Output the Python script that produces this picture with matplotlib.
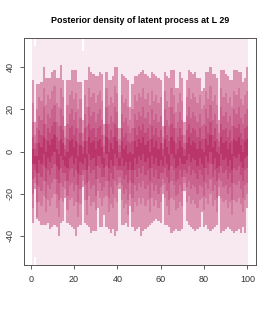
import numpy as np
import matplotlib
matplotlib.use("Agg")
import matplotlib.pyplot as plt

plt.rcParams['font.family'] = ['Liberation Sans', 'DejaVu Sans']

# time index
steps = list(range(1, 101))

# quantiles of the posterior at each step
q_max = [62, 50, 62, 62, 62, 62, 62, 62, 62, 62, 62, 62, 62, 62, 62, 57, 62, 62, 62, 62,
         62, 62, 62, 48, 62, 62, 62, 62, 62, 62, 62, 62, 62, 57, 62, 62, 62, 62, 62, 62,
         57, 62, 62, 62, 62, 58, 62, 62, 62, 62, 62, 62, 62, 62, 62, 62, 62, 62, 62, 62,
         57, 62, 62, 62, 62, 62, 62, 62, 62, 62, 57, 62, 62, 62, 62, 62, 62, 62, 62, 62,
         62, 62, 62, 62, 62, 62, 57, 62, 62, 62, 62, 62, 62, 62, 62, 62, 62, 62, 62, 62]
q95 = [34, 14, 32, 32, 33, 40, 35, 35, 35, 38, 39, 35, 35, 41, 34, 12, 34, 34, 39, 39,
       39, 33, 33, 15, 34, 34, 40, 38, 37, 36, 36, 38, 37, 13, 38, 34, 34, 36, 40, 40,
       11, 37, 36, 35, 34, 21, 32, 36, 36, 37, 38, 39, 37, 36, 35, 38, 37, 36, 35, 34,
       12, 38, 36, 35, 39, 39, 30, 30, 38, 35, 14, 34, 39, 38, 37, 38, 35, 35, 29, 30,
       38, 38, 40, 37, 37, 35, 15, 39, 39, 37, 36, 34, 34, 39, 39, 38, 38, 33, 35, 40]
q90 = [23, 8, 20, 26, 24, 30, 22, 27, 25, 29, 31, 23, 21, 30, 26, 7, 22, 27, 29, 25,
       28, 20, 25, 9, 27, 21, 30, 26, 28, 23, 27, 29, 24, 8, 30, 22, 26, 23, 31, 28,
       6, 27, 23, 25, 21, 15, 20, 27, 24, 28, 26, 30, 25, 28, 22, 29, 24, 27, 23, 26,
       7, 29, 24, 21, 30, 27, 19, 23, 28, 24, 8, 26, 30, 25, 28, 26, 23, 27, 20, 22,
       29, 25, 31, 24, 27, 22, 9, 30, 26, 28, 23, 26, 21, 29, 27, 30, 25, 22, 27, 29]
q80 = [14, 4, 11, 17, 15, 21, 13, 18, 16, 20, 22, 14, 12, 20, 17, 3, 13, 18, 20, 15,
       19, 11, 16, 5, 18, 12, 21, 17, 19, 14, 18, 20, 15, 3, 21, 13, 17, 14, 21, 19,
       3, 18, 14, 16, 12, 9, 11, 18, 15, 19, 17, 21, 16, 19, 13, 20, 15, 18, 14, 17,
       4, 20, 15, 12, 21, 18, 11, 14, 19, 15, 4, 17, 21, 16, 19, 17, 14, 18, 12, 13,
       20, 16, 22, 15, 18, 13, 5, 21, 17, 19, 14, 17, 12, 20, 18, 21, 16, 13, 18, 20]
q70 = [7, 1, 4, 10, 8, 13, 6, 11, 9, 12, 14, 7, 5, 12, 10, 1, 6, 11, 12, 8,
       11, 4, 9, 2, 11, 5, 13, 10, 11, 7, 11, 12, 8, 0, 13, 6, 10, 7, 13, 11,
       0, 11, 7, 9, 5, 4, 5, 11, 8, 12, 10, 13, 9, 11, 6, 12, 8, 11, 7, 10,
       1, 12, 8, 5, 13, 11, 4, 7, 11, 8, 1, 10, 13, 9, 11, 10, 7, 11, 6, 6,
       12, 9, 14, 8, 11, 6, 2, 13, 10, 11, 7, 10, 5, 12, 11, 13, 9, 6, 11, 12]
q60 = [1, -2, -2, 4, 2, 7, 0, 5, 3, 6, 8, 1, -1, 6, 4, -2, 0, 5, 6, 2,
       5, -2, 3, -1, 5, -1, 7, 4, 5, 1, 5, 6, 2, -3, 7, 0, 4, 1, 7, 5,
       -3, 5, 1, 3, -1, 0, -1, 5, 2, 6, 4, 7, 3, 5, 0, 6, 2, 5, 1, 4,
       -2, 6, 2, -1, 7, 5, -1, 1, 5, 2, -2, 4, 7, 3, 5, 4, 1, 5, 1, 0,
       6, 3, 8, 2, 5, 0, -1, 7, 4, 5, 1, 4, -1, 6, 5, 7, 3, 0, 5, 6]
q40 = [-6, -6, -10, -4, -6, -1, -8, -3, -5, -2, 0, -7, -9, -2, -4, -7, -8, -3, -2, -6,
       -3, -10, -5, -6, -3, -9, -1, -4, -3, -7, -2, -2, -6, -8, -1, -8, -4, -7, -1, -3,
       -7, -3, -7, -5, -9, -5, -9, -3, -6, -2, -4, -1, -5, -3, -8, -2, -6, -3, -7, -4,
       -7, -2, -6, -9, -1, -3, -8, -7, -3, -6, -6, -4, -1, -5, -3, -4, -7, -3, -6, -8,
       -2, -5, 0, -6, -3, -8, -7, -1, -4, -3, -7, -4, -9, -2, -3, -1, -5, -8, -3, -2]
q30 = [-13, -9, -16, -10, -12, -7, -14, -9, -11, -8, -6, -13, -15, -8, -10, -10, -14, -9, -8, -12,
       -9, -16, -11, -9, -9, -15, -7, -10, -9, -13, -7, -8, -12, -12, -7, -14, -10, -13, -7, -9,
       -9, -9, -13, -11, -15, -9, -15, -9, -12, -8, -10, -7, -11, -9, -14, -8, -12, -9, -13, -10,
       -10, -8, -12, -15, -7, -9, -14, -13, -9, -12, -9, -10, -7, -11, -9, -10, -13, -9, -11, -14,
       -8, -11, -6, -12, -9, -14, -10, -7, -10, -9, -13, -10, -15, -8, -9, -7, -11, -14, -9, -8]
q20 = [-20, -12, -24, -17, -19, -14, -22, -16, -18, -15, -13, -20, -23, -15, -17, -14, -21, -16, -15, -19,
       -16, -24, -18, -11, -16, -23, -14, -18, -16, -21, -13, -15, -19, -17, -14, -22, -17, -20, -14, -16,
       -12, -16, -20, -18, -23, -14, -22, -16, -19, -15, -17, -14, -18, -16, -22, -15, -19, -16, -20, -17,
       -13, -15, -19, -23, -14, -16, -21, -20, -16, -19, -12, -17, -14, -18, -16, -17, -20, -16, -17, -21,
       -15, -18, -13, -19, -16, -22, -13, -14, -17, -16, -20, -17, -23, -15, -16, -14, -18, -22, -16, -15]
q10 = [-27, -15, -31, -24, -26, -21, -29, -23, -26, -22, -20, -27, -31, -22, -24, -18, -28, -23, -22, -26,
       -24, -31, -25, -14, -23, -30, -21, -26, -24, -28, -19, -22, -26, -22, -21, -29, -25, -27, -22, -24,
       -15, -23, -27, -25, -30, -20, -29, -24, -26, -22, -25, -22, -26, -23, -29, -22, -26, -23, -27, -24,
       -16, -22, -26, -30, -22, -23, -28, -27, -24, -26, -15, -24, -21, -25, -23, -25, -27, -23, -22, -28,
       -22, -25, -20, -26, -23, -29, -17, -22, -24, -23, -27, -24, -30, -23, -24, -22, -25, -29, -23, -20]
q05 = [-34, -18, -32, -33, -35, -35, -35, -34, -37, -36, -35, -36, -40, -34, -33, -22, -34, -35, -36, -37,
       -40, -36, -35, -17, -34, -35, -36, -39, -38, -38, -27, -36, -36, -30, -36, -37, -39, -37, -40, -38,
       -18, -35, -35, -34, -36, -26, -36, -38, -37, -36, -40, -38, -37, -36, -35, -34, -33, -32, -33, -34,
       -20, -35, -35, -36, -39, -38, -37, -38, -38, -37, -19, -33, -35, -36, -37, -38, -37, -36, -29, -36,
       -35, -37, -38, -37, -36, -35, -21, -39, -38, -37, -36, -37, -38, -39, -38, -37, -39, -36, -39, -27]
q_min = [-62, -50, -62, -62, -62, -62, -62, -62, -62, -62, -62, -62, -62, -62, -62, -57, -62, -62, -62, -62,
         -62, -62, -62, -57, -62, -62, -62, -62, -62, -62, -62, -62, -62, -62, -62, -62, -62, -62, -62, -62,
         -57, -62, -62, -62, -62, -58, -62, -62, -62, -62, -62, -62, -62, -62, -62, -62, -62, -62, -62, -62,
         -57, -62, -62, -62, -62, -62, -62, -62, -62, -62, -57, -62, -62, -62, -62, -62, -62, -62, -62, -62,
         -62, -62, -62, -62, -62, -62, -57, -62, -62, -62, -62, -62, -62, -62, -62, -62, -62, -62, -62, -62]

# bands from outside to inside
bands = [(q_min, q_max), (q05, q95), (q10, q90), (q20, q80), (q30, q70), (q40, q60)]
colours = ['#F8E8EF', '#DB95B1', '#D27A9D', '#C9628C', '#C14C7D', '#B9356A']

fig = plt.figure(figsize=(2.75, 3.14), dpi=100)
ax = fig.add_axes([0.088, 0.156, 0.843, 0.723])

x = np.array(steps)
for (lo, hi), col in zip(bands, colours):
    lo = np.array(lo, dtype=float)
    hi = np.array(hi, dtype=float)
    ax.bar(x, hi - lo, bottom=lo, width=1.0, color=col, linewidth=0)

ax.set_xlim(-3, 104)
ax.set_ylim(-54, 54)
ax.set_xticks([0, 20, 40, 60, 80, 100])
ax.set_yticks([-40, -20, 0, 20, 40])
ax.set_yticklabels(['-40', '-20', '0', '20', '40'], rotation=90, va='center')
ax.tick_params(labelsize=6.5, length=3, width=0.6, color='#444444', labelcolor='#333333', pad=4)
for s in ax.spines.values():
    s.set_color('#555555')
    s.set_linewidth(0.7)

ax.set_title('Posterior density of latent process at L 29', fontsize=6.4,
             fontweight='bold', pad=11)

fig.savefig('out.png', dpi=100)
